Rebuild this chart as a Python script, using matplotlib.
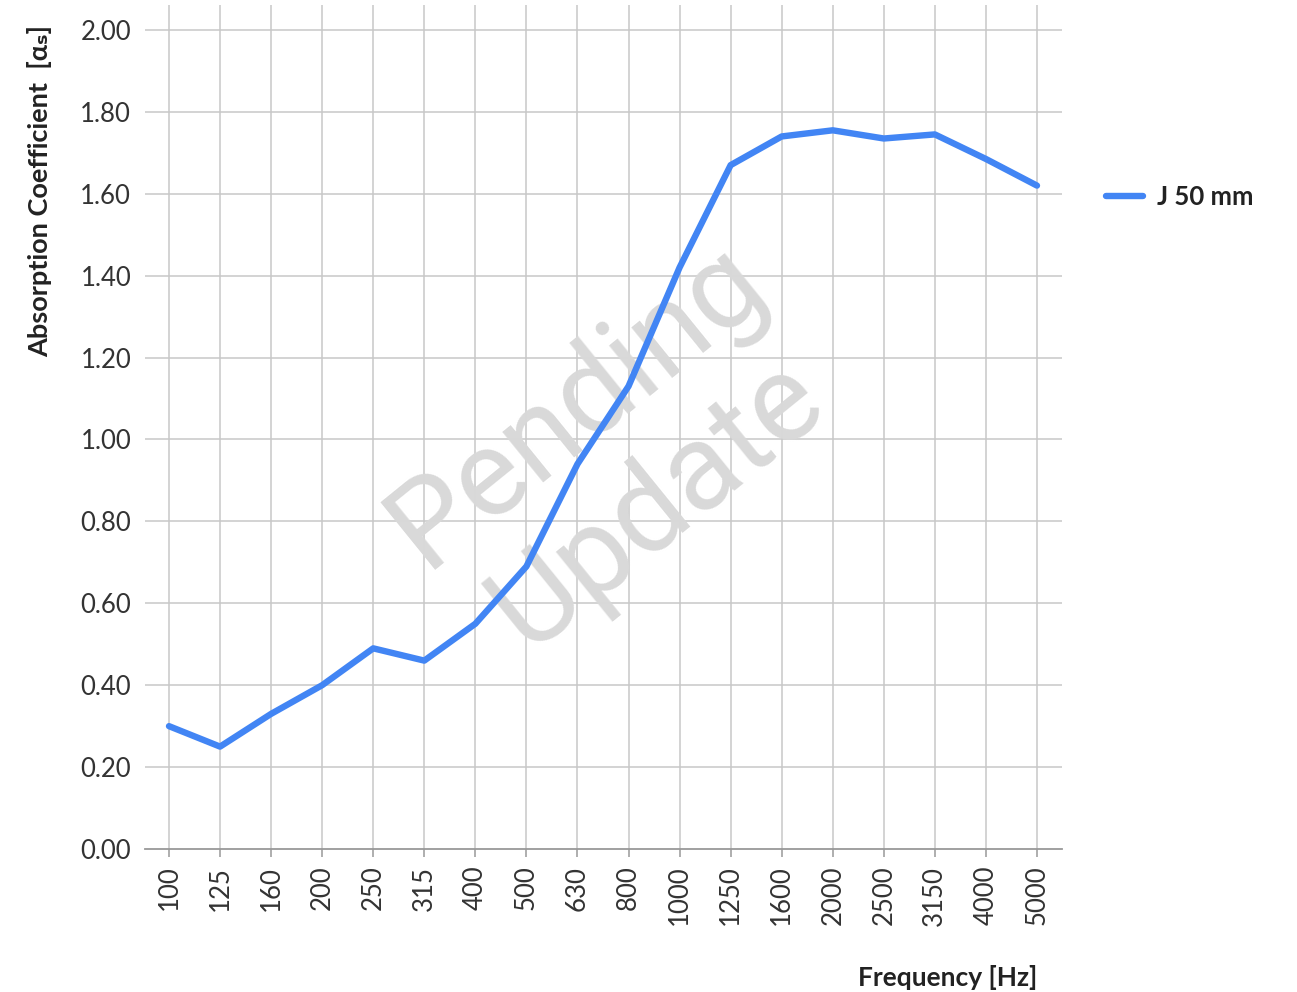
import matplotlib.pyplot as plt

# Frequency bands and absorption coefficients
freqs = ['100', '125', '160', '200', '250', '315', '400', '500', '630',
         '800', '1000', '1250', '1600', '2000', '2500', '3150', '4000', '5000']
alpha = [0.30, 0.25, 0.33, 0.40, 0.49, 0.46, 0.55, 0.69, 0.94,
         1.13, 1.42, 1.67, 1.74, 1.755, 1.735, 1.745, 1.685, 1.62]
yticks = [0.0, 0.2, 0.4, 0.6, 0.8, 1.0, 1.2, 1.4, 1.6, 1.8, 2.0]
series_name = 'J 50 mm'

plt.rcParams['font.family'] = ['Lato', 'DejaVu Sans']

fig = plt.figure(figsize=(12.97, 9.92), dpi=100)
ax = fig.add_axes([145 / 1297, 1 - 849 / 992, 917 / 1297, 844 / 992])

x = list(range(len(freqs)))
ax.plot(x, alpha, color='#4285F4', lw=4.6, solid_capstyle='round',
        solid_joinstyle='round', zorder=4, label=series_name)

ax.set_xlim(-0.47, len(freqs) - 1 + 0.49)
ax.set_ylim(0, 2.061)

# grid: vertical lines at categories, horizontal lines at y ticks
for xi in x:
    ax.axvline(xi, color='#c8c8c8', lw=1.1, zorder=1)
for yv in yticks[1:]:
    ax.axhline(yv, color='#c8c8c8', lw=1.1, zorder=1)

for s in ['top', 'right', 'left']:
    ax.spines[s].set_visible(False)
ax.spines['bottom'].set_color('#999999')
ax.spines['bottom'].set_linewidth(1.3)

ax.set_xticks(x)
ax.set_xticklabels(freqs, rotation=90, fontsize=18.5, color='#333333')
ax.set_yticks(yticks)
ax.set_yticklabels([f'{v:.2f}' for v in yticks], fontsize=18.5, color='#333333')
ax.tick_params(axis='x', length=6, width=1.1, color='#999999', pad=6)
ax.tick_params(axis='y', length=0, pad=10)

# watermark
ax.text(0.515, 0.468, 'Pending\nUpdate', transform=ax.transAxes,
        fontsize=88, family='Roboto', color='#d9d9d9', rotation=39,
        ha='center', va='center', multialignment='center',
        linespacing=1.1, zorder=2)

fig.text(1037 / 1297, 1 - 978 / 992, 'Frequency [Hz]', ha='right', va='center',
         fontsize=19, fontweight='bold', color='#222222')
fig.text(40 / 1297, 1 - 25 / 992, 'Absorption Coefficient  [α\u209b]', rotation=90,
         ha='center', va='top', fontsize=19.5, fontweight='bold', color='#222222')

leg = ax.legend(loc='center left', bbox_to_anchor=(1088 / 1297, 1 - 197 / 992),
                bbox_transform=fig.transFigure, frameon=False, handlelength=1.45,
                handletextpad=0.55, borderpad=0.2,
                prop={'size': 18.5, 'weight': 'bold'})
for t in leg.get_texts():
    t.set_color('#222222')

fig.savefig('out.png', dpi=100)
